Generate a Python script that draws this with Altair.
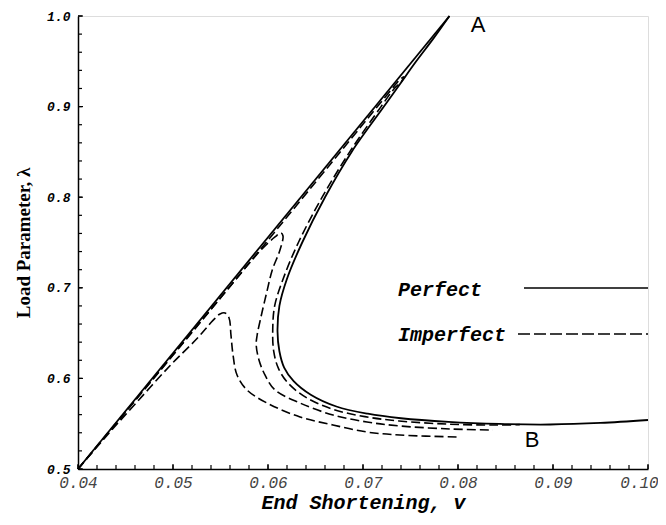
import altair as alt
import pandas as pd

# ---- data ----
perfect_pre_v = [0.040, 0.0791]
perfect_pre_lam = [0.500, 1.000]

perfect_post_v = [0.0791, 0.0774, 0.0756, 0.0739, 0.0722, 0.0688, 0.0660, 0.0636, 0.0620, 0.0612,
                  0.0610, 0.0612, 0.0617, 0.0627, 0.0645, 0.0672, 0.0705, 0.0740, 0.0790, 0.0844,
                  0.0897, 0.0950, 0.1000]
perfect_post_lam = [1.000, 0.975, 0.950, 0.925, 0.900, 0.850, 0.800, 0.750, 0.710, 0.680,
                    0.652, 0.630, 0.612, 0.597, 0.582, 0.569, 0.561, 0.556, 0.552, 0.5497,
                    0.5491, 0.5508, 0.5541]

imp1_v = [0.040, 0.0530, 0.0666, 0.0730, 0.0738, 0.0743, 0.0740, 0.0733, 0.0719, 0.0686,
          0.0657, 0.0632, 0.0616, 0.0607, 0.0605, 0.0606, 0.0611, 0.0621, 0.0640, 0.0668,
          0.0702, 0.0738, 0.0790, 0.0840, 0.0865]
imp1_lam = [0.500, 0.6634, 0.8370, 0.9190, 0.9290, 0.9330, 0.9270, 0.9200, 0.9000, 0.8500,
            0.8000, 0.7500, 0.7100, 0.6800, 0.6550, 0.6300, 0.6110, 0.5950, 0.5790, 0.5660,
            0.5578, 0.5530, 0.5495, 0.5485, 0.5490]

imp2_v = [0.040, 0.04779, 0.05516, 0.05926, 0.06074, 0.06137, 0.06158, 0.06126, 0.06045, 0.05985,
          0.05926, 0.05886, 0.05876, 0.05905, 0.05968, 0.06074, 0.06337, 0.06684, 0.07042, 0.07389,
          0.07916, 0.08368]
imp2_lam = [0.500, 0.5982, 0.6909, 0.7417, 0.7561, 0.7605, 0.7572, 0.7417, 0.7196, 0.6943,
            0.6678, 0.6479, 0.6369, 0.6203, 0.6038, 0.5872, 0.5728, 0.5596, 0.5519, 0.5475,
            0.5442, 0.5430]

imp3_v = [0.040, 0.0430, 0.04621, 0.04968, 0.05253, 0.05421, 0.05495, 0.05547, 0.0559, 0.0561,
          0.05632, 0.05674, 0.05779, 0.0599, 0.06337, 0.06684, 0.07042, 0.07389, 0.0800]
imp3_lam = [0.500, 0.5365, 0.5740, 0.6140, 0.6440, 0.6640, 0.6711, 0.6722, 0.6667, 0.6480,
            0.6258, 0.6038, 0.5872, 0.5728, 0.5574, 0.5486, 0.5408, 0.5375, 0.5353]

x_major = [0.04, 0.05, 0.06, 0.07, 0.08, 0.09, 0.10]
x_minor = [round(0.04 + 0.002 * i, 3) for i in range(31)]
y_major = [0.5, 0.6, 0.7, 0.8, 0.9, 1.0]
y_minor = [round(0.5 + 0.02 * i, 2) for i in range(26)]

legend_labels = ["Perfect", "Imperfect"]
point_labels = ["A", "B"]

# ---- build tables ----
def curve(name, style, vs, ls):
    return pd.DataFrame({"curve": name, "style": style, "i": range(len(vs)), "v": vs, "lam": ls})

df = pd.concat([
    curve("perfect_pre", "solid", perfect_pre_v, perfect_pre_lam),
    curve("perfect_post", "solid", perfect_post_v, perfect_post_lam),
    curve("imp1", "dashed", imp1_v, imp1_lam),
    curve("imp2", "dashed", imp2_v, imp2_lam),
    curve("imp3", "dashed", imp3_v, imp3_lam),
], ignore_index=True)

W, H = 570, 453
xs = alt.Scale(domain=[0.04, 0.10], nice=False, zero=False)
ys = alt.Scale(domain=[0.5, 1.0], nice=False, zero=False)

xaxis = alt.Axis(values=x_major, format=".2f", labelFont="Liberation Mono", labelFontStyle="italic",
                 labelFontSize=16, labelColor="#444", labelPadding=5, labelFlush=False,
                 labelOverlap=False, labelBound=False, ticks=False, grid=False,
                 labelOffset={"condition": {"test": "datum.value >= 0.099", "value": -9}, "value": 0},
                 domainColor="black", domainWidth=1.5,
                 title="End Shortening, v", titleFont="Liberation Mono", titleFontStyle="italic",
                 titleFontWeight="bold", titleFontSize=20, titlePadding=2, titleColor="black")
yaxis = alt.Axis(values=y_major, format=".1f", labelFont="Liberation Mono", labelFontStyle="italic",
                 labelFontWeight="bold", labelFontSize=13, labelColor="black", labelPadding=8,
                 labelFlush=False, labelOverlap=False, ticks=False, grid=False,
                 domainColor="black", domainWidth=1.5,
                 title="Load Parameter, λ", titleFont="Liberation Serif", titleFontWeight="bold",
                 titleFontSize=19, titlePadding=13, titleColor="black")

base = alt.Chart(df)
solid = base.transform_filter(alt.datum.style == "solid").mark_line(
    color="black", strokeWidth=1.8, interpolate="catmull-rom").encode(
    x=alt.X("v:Q", scale=xs, axis=xaxis),
    y=alt.Y("lam:Q", scale=ys, axis=yaxis),
    detail="curve:N", order="i:Q")
dashed = base.transform_filter(alt.datum.style == "dashed").mark_line(
    color="black", strokeWidth=1.6, strokeDash=[9, 4], interpolate="catmull-rom").encode(
    x=alt.X("v:Q", scale=xs), y=alt.Y("lam:Q", scale=ys),
    detail="curve:N", order="i:Q")

# inward ticks
def xticks(vals, L):
    return alt.Chart(pd.DataFrame({"t": vals})).mark_rule(color="black", strokeWidth=1.2).encode(
        x=alt.X("t:Q", scale=xs), y=alt.value(H), y2=alt.value(H - L))

def yticks(vals, L):
    return alt.Chart(pd.DataFrame({"t": vals})).mark_rule(color="black", strokeWidth=1.2).encode(
        y=alt.Y("t:Q", scale=ys), x=alt.value(0), x2=alt.value(L))

# legend (drawn as annotation)
leg_df = pd.DataFrame({"t": legend_labels})
leg_text1 = alt.Chart(leg_df).transform_filter(alt.datum.t == "Perfect").mark_text(
    font="Liberation Mono", fontStyle="italic", fontWeight="bold", fontSize=20, align="left",
    baseline="middle", color="black").encode(x=alt.value(320), y=alt.value(274), text="t:N")
leg_text2 = alt.Chart(leg_df).transform_filter(alt.datum.t == "Imperfect").mark_text(
    font="Liberation Mono", fontStyle="italic", fontWeight="bold", fontSize=20, align="left",
    baseline="middle", color="black").encode(x=alt.value(320), y=alt.value(319), text="t:N")
leg_line1 = alt.Chart(leg_df).transform_filter(alt.datum.t == "Perfect").mark_rule(
    color="black", strokeWidth=1.5).encode(x=alt.value(446), x2=alt.value(570), y=alt.value(272))
leg_line2 = alt.Chart(leg_df).transform_filter(alt.datum.t == "Imperfect").mark_rule(
    color="black", strokeWidth=1.5, strokeDash=[12, 4]).encode(x=alt.value(440), x2=alt.value(570), y=alt.value(318))

pt_df = pd.DataFrame({"t": point_labels})
lab_a = alt.Chart(pt_df).transform_filter(alt.datum.t == "A").mark_text(
    font="Liberation Sans", fontSize=22, align="center", baseline="middle", color="black").encode(
    x=alt.value(400), y=alt.value(9), text="t:N")
lab_b = alt.Chart(pt_df).transform_filter(alt.datum.t == "B").mark_text(
    font="Liberation Sans", fontSize=22, align="center", baseline="middle", color="black").encode(
    x=alt.value(454), y=alt.value(424), text="t:N")

chart = alt.layer(
    solid, dashed,
    xticks(x_minor, 4), xticks(x_major, 5), yticks(y_minor, 4), yticks(y_major, 5),
    leg_text1, leg_text2, leg_line1, leg_line2, lab_a, lab_b,
).properties(
    width=W, height=H,
    autosize=alt.AutoSizeParams(type="none"),
    padding={"left": 70, "top": 8, "right": 10, "bottom": 48},
).configure_view(stroke=None).configure(background="white")

chart.save("out.html", embed_options={"renderer": "svg", "actions": False})
